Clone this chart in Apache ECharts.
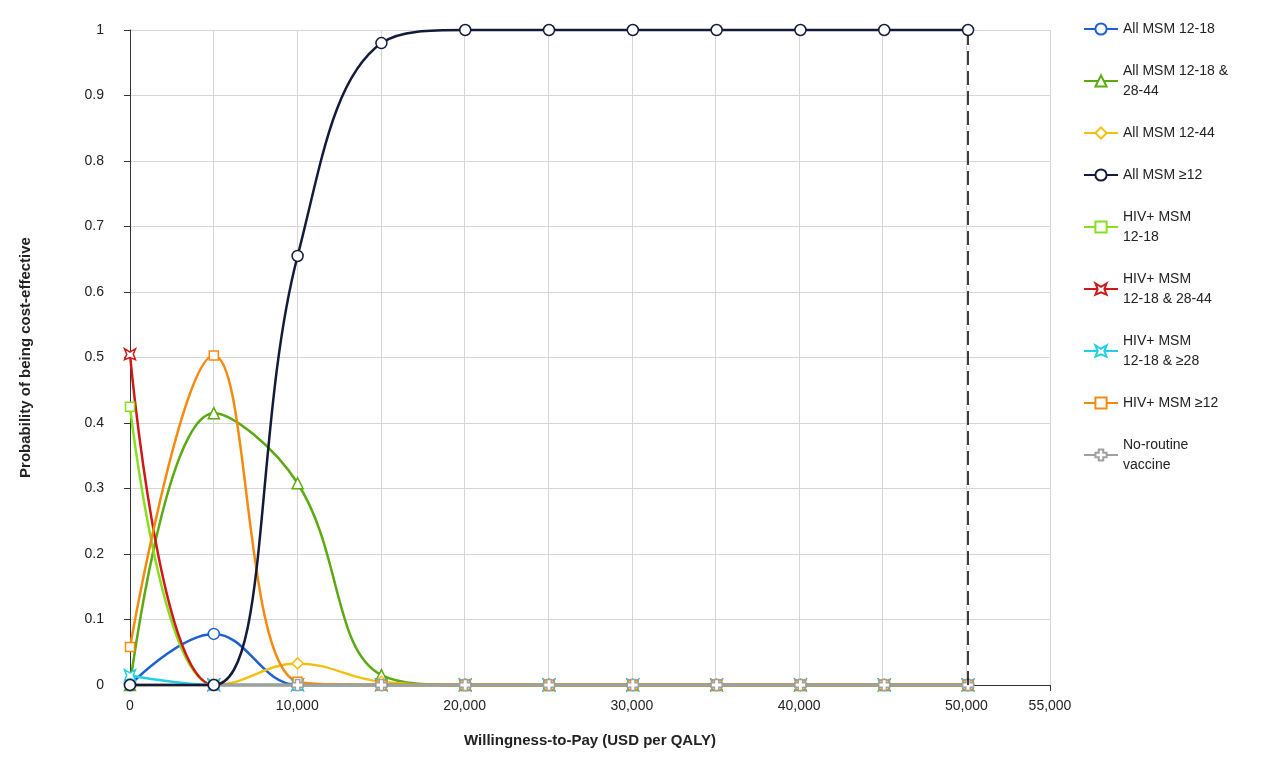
<!DOCTYPE html><html><head><meta charset="utf-8"><script src="https://cdn.jsdelivr.net/npm/echarts@6/dist/echarts.min.js"></script>
<style>body{margin:0}#c{width:1280px;height:782px}</style></head><body><div id="c"></div><script>
const xs=[0,5010,10020,15030,20040,25050,30060,35070,40080,45090,50100];
const names=['All MSM 12-18','All MSM 12-18 &\n28-44','All MSM 12-44','All MSM ≥12','HIV+ MSM\n12-18','HIV+ MSM\n12-18 & 28-44','HIV+ MSM\n12-18 & ≥28','HIV+ MSM ≥12','No-routine\nvaccine'];
const colors=['#1f5fd6','#5aaa10','#f2c010','#141a3a','#86e020','#d01818','#20d0e8','#f58a10','#a0a0a0'];
const cross='path://M3,0H7V3H10V7H7V10H3V7H0V3H3Z';
const yshape='path://M0,0L5,3L10,0L8,5L10,10L5,8L0,10L2,5Z';
const symbols=['circle','triangle','diamond','circle','rect',yshape,yshape,'rect',cross];
const vals=[
[0,0.078,0,0,0,0,0,0,0,0,0],
[0,0.415,0.308,0.015,0,0,0,0,0,0,0],
[0,0,0.033,0.005,0,0,0,0,0,0,0],
[0,0,0.655,0.98,1,1,1,1,1,1,1],
[0.425,0,0,0,0,0,0,0,0,0,0],
[0.505,0,0,0,0,0,0,0,0,0,0],
[0.015,0,0,0,0,0,0,0,0,0,0],
[0.058,0.503,0.005,0,0,0,0,0,0,0,0],
[0,0,0,0,0,0,0,0,0,0,0]];
const series=names.map((n,i)=>({name:n,type:'line',smooth:0.4,clip:false,symbol:symbols[i],symbolSize:i==4||i==7?9:11,
 data:xs.map((x,j)=>[x,vals[i][j]]),lineStyle:{color:colors[i],width:2.5},
 itemStyle:{color:'#fff',borderColor:colors[i],borderWidth:1.5},z:i==3?5:3}));
series.push({type:'line',data:[],markLine:{symbol:'none',silent:true,label:{show:false},lineStyle:{color:'#000',type:[14,6],width:1.5},data:[{xAxis:50100}]}});
const f='Liberation Sans, Arial, sans-serif';
echarts.init(document.getElementById('c')).setOption({animation:false,
grid:{left:130,right:230,top:30,bottom:97},
legend:{orient:'vertical',left:1078,top:14,itemGap:22,itemWidth:34,itemHeight:14,textStyle:{fontFamily:f,fontSize:14,color:'#222',lineHeight:20},data:names},
xAxis:{type:'value',min:0,max:55000,interval:5000,name:'Willingness-to-Pay (USD per QALY)',nameLocation:'middle',nameGap:48,
 nameTextStyle:{fontFamily:f,fontWeight:'bold',fontSize:15,color:'#222'},
 axisLine:{lineStyle:{color:'#333'}},axisTick:{length:6,lineStyle:{color:'#333'}},
 axisLabel:{fontFamily:f,fontSize:14,color:'#222',margin:14,formatter:v=>(v%10000==0||v==55000)?v.toLocaleString('en-US'):''},
 splitLine:{show:true,lineStyle:{color:'#d6d6d6'}}},
yAxis:{type:'value',min:0,max:1,interval:0.1,offset:12,name:'Probability of being cost-effective',nameLocation:'middle',nameGap:85,
 nameTextStyle:{fontFamily:f,fontWeight:'bold',fontSize:15,color:'#222'},
 axisLine:{show:true,lineStyle:{color:'#333'}},axisTick:{show:true,length:6,lineStyle:{color:'#333'}},
 axisLabel:{fontFamily:f,fontSize:14,color:'#222',margin:14,formatter:v=>+v.toFixed(1)+''},
 splitLine:{lineStyle:{color:'#d6d6d6'}}},
series});
</script></body></html>
